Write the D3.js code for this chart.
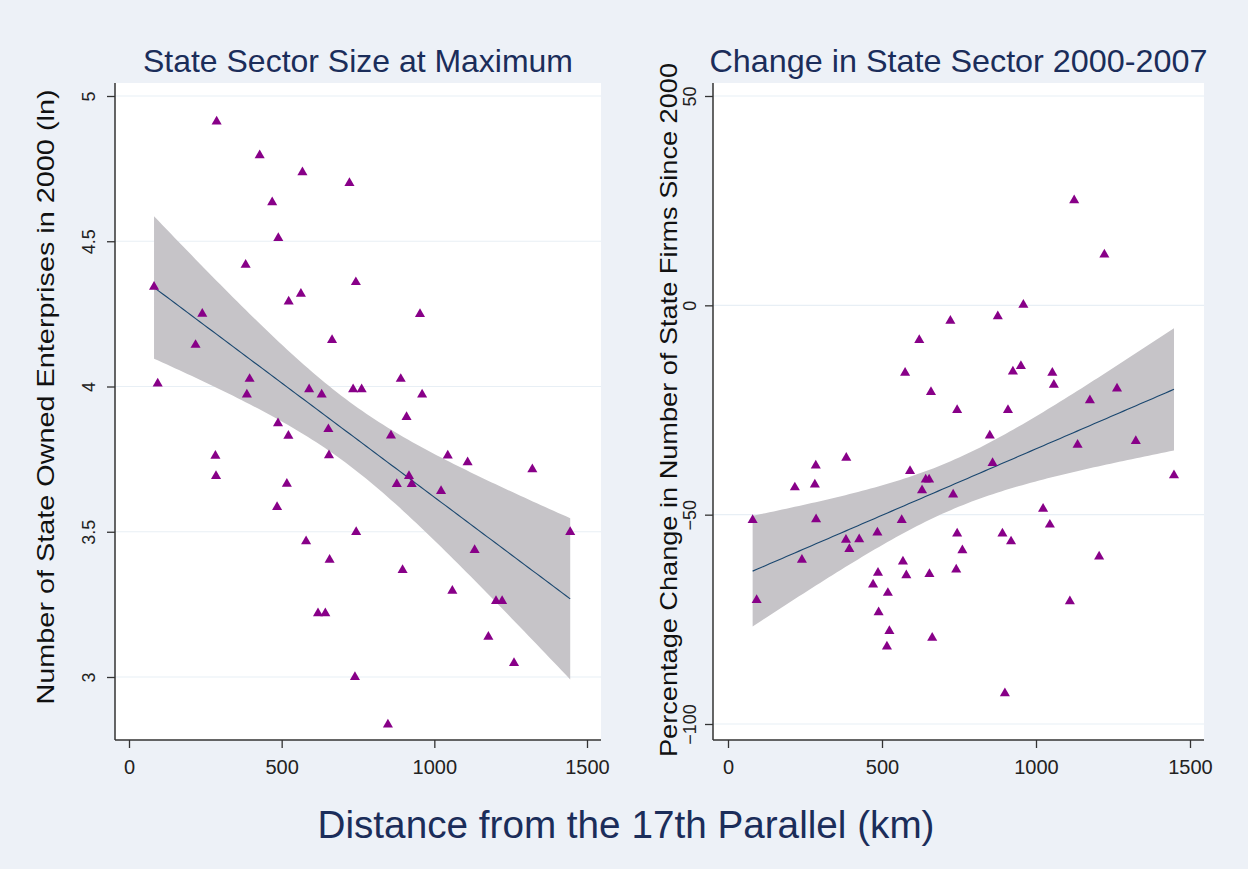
<!DOCTYPE html>
<html>
<head>
<meta charset="utf-8">
<script src="https://cdn.jsdelivr.net/npm/d3@7"></script>
<style>
  html, body { margin: 0; padding: 0; background: #edf1f7; }
  svg { display: block; font-family: "Liberation Sans", Arial, sans-serif; }
</style>
</head>
<body>
<svg id="chart" width="1248" height="869"></svg>
<script>
// ---------- DATA ----------
const xTicks = [0, 500, 1000, 1500];
const leftYTicks = [3, 3.5, 4, 4.5, 5];
const rightYTicks = [-100, -50, 0, 50];

const leftTitle = "State Sector Size at Maximum";
const rightTitle = "Change in State Sector 2000-2007";
const leftYLabel = "Number of State Owned Enterprises in 2000 (ln)";
const rightYLabel = "Percentage Change in Number of State Firms Since 2000";
const xLabel = "Distance from the 17th Parallel (km)";

// Left panel: distance (km) and ln number of SOEs in 2000
const leftX = [82, 94, 218, 240, 287, 283, 285, 428, 382, 395, 386, 469, 489, 523, 488, 485,
  568, 563, 522, 517, 590, 631, 580, 619, 643, 653, 665, 655, 657, 722, 734, 762, 743, 744,
  740, 848, 858, 890, 877, 896, 909, 917, 926, 953, 960, 1022, 1044, 1109, 1059, 1132, 1177,
  1202, 1222, 1261, 1321, 1445];
const leftY = [4.343, 4.010, 4.143, 4.250, 4.912, 3.761, 3.692, 4.796, 4.419, 4.026, 3.972,
  4.634, 4.511, 4.292, 3.873, 3.585, 4.737, 4.319, 3.830, 3.665, 3.990, 3.972, 3.467, 3.219,
  3.219, 3.853, 4.160, 3.763, 3.403, 4.700, 3.990, 3.990, 4.359, 3.499, 3.000, 2.836, 3.831,
  4.026, 3.664, 3.368, 3.895, 3.692, 3.664, 4.249, 3.972, 3.640, 3.762, 3.739, 3.297, 3.437,
  3.138, 3.261, 3.261, 3.048, 3.715, 3.499];

// Right panel: distance (km) and % change in number of state firms since 2000
const rightX = [1124, 1222, 959, 876, 722, 621, 951, 925, 1053, 1058, 575, 659, 1263, 1175, 744,
  909, 384, 285, 591, 217, 282, 642, 653, 630, 80, 286, 564, 383, 426, 394, 485, 240, 568, 487,
  579, 654, 471, 519, 93, 489, 524, 663, 516, 850, 1135, 1324, 859, 731, 1448, 1023, 1045, 744,
  891, 919, 761, 1205, 741, 1110, 899];
const rightY = [25.1, 12.1, 0.1, -2.6, -3.7, -8.3, -14.5, -15.8, -16.1, -19.0, -16.1, -20.7,
  -19.9, -22.7, -25.0, -25.0, -36.4, -38.3, -39.6, -43.5, -42.8, -41.6, -41.6, -44.2, -51.3,
  -51.1, -51.3, -56.0, -55.9, -58.2, -54.3, -60.8, -61.2, -63.9, -64.5, -64.2, -66.7, -68.7,
  -70.4, -73.3, -77.8, -79.4, -81.5, -31.1, -33.3, -32.4, -37.7, -45.2, -40.6, -48.6, -52.4,
  -54.5, -54.5, -56.4, -58.5, -60.0, -63.1, -70.7, -92.7];

// ---------- LAYOUT ----------
const svg = d3.select("#chart");
const W = 1248, H = 869;
svg.append("rect").attr("width", W).attr("height", H).attr("fill", "#edf1f7");

const COLORS = {
  marker: "#880088",
  fit: "#1a476f",
  band: "#c6c4c8",
  grid: "#e8eff5",
  axis: "#333333",
  title: "#1b2d5a"
};

// linear fit with 95% CI of mean prediction (like Stata lfitci)
function fitCI(xs, ys, nPts) {
  const n = xs.length;
  const xm = d3.mean(xs), ym = d3.mean(ys);
  let sxx = 0, sxy = 0;
  for (let i = 0; i < n; i++) { sxx += (xs[i] - xm) ** 2; sxy += (xs[i] - xm) * (ys[i] - ym); }
  const b = sxy / sxx, a = ym - b * xm;
  let sse = 0;
  for (let i = 0; i < n; i++) sse += (ys[i] - a - b * xs[i]) ** 2;
  const s = Math.sqrt(sse / (n - 2));
  const df = n - 2;
  const t = 1.959964 + 2.37227 / df + 2.82217 / (df * df);
  const [x0, x1] = d3.extent(xs);
  const out = [];
  for (let k = 0; k <= nPts; k++) {
    const x = x0 + (x1 - x0) * k / nPts;
    const yh = a + b * x;
    const se = s * Math.sqrt(1 / n + (x - xm) ** 2 / sxx);
    out.push({ x, y: yh, lo: yh - t * se, hi: yh + t * se });
  }
  return out;
}

function panel(cfg) {
  const g = svg.append("g");
  const x = d3.scaleLinear().domain([0, 1500]).range(cfg.xRange);
  const y = d3.scaleLinear().domain(cfg.yDomain).range(cfg.yRange);
  const [L, T, R, B] = cfg.box;

  g.append("rect").attr("x", L).attr("y", T).attr("width", R - L).attr("height", B - T)
    .attr("fill", "#ffffff");

  // gridlines
  g.append("g").selectAll("line").data(cfg.yTicks).join("line")
    .attr("x1", L).attr("x2", R)
    .attr("y1", d => y(d)).attr("y2", d => y(d))
    .attr("stroke", COLORS.grid).attr("stroke-width", 1.2);

  // CI band + fit
  const fit = fitCI(cfg.xs, cfg.ys, 100);
  g.append("path").datum(fit)
    .attr("d", d3.area().x(d => x(d.x)).y0(d => y(d.lo)).y1(d => y(d.hi)))
    .attr("fill", COLORS.band);
  g.append("path").datum(fit)
    .attr("d", d3.line().x(d => x(d.x)).y(d => y(d.y)))
    .attr("fill", "none").attr("stroke", COLORS.fit).attr("stroke-width", 1.1);

  // markers
  const tri = d3.symbol().type(d3.symbolTriangle).size(44);
  g.append("g").selectAll("path").data(cfg.xs.map((v, i) => [v, cfg.ys[i]])).join("path")
    .attr("d", tri)
    .attr("transform", d => `translate(${x(d[0])},${y(d[1])})`)
    .attr("fill", COLORS.marker);

  // axes
  const yAxis = g.append("g").attr("transform", `translate(${L},0)`)
    .call(d3.axisLeft(y).tickValues(cfg.yTicks).tickSize(8).tickFormat(d3.format("")));
  yAxis.select(".domain").remove();
  yAxis.append("line").attr("x1", 0).attr("x2", 0).attr("y1", T).attr("y2", B)
    .attr("stroke", COLORS.axis).attr("stroke-width", 1.5);
  yAxis.selectAll(".tick line").attr("stroke", COLORS.axis).attr("stroke-width", 1.3);
  yAxis.selectAll(".tick text")
    .attr("transform", "rotate(-90)")
    .attr("x", 0).attr("y", cfg.tickLabelOffset).attr("dy", 0)
    .style("text-anchor", "middle")
    .attr("fill", "#222").style("font-size", "18px");

  const xAxis = g.append("g").attr("transform", `translate(0,${B})`)
    .call(d3.axisBottom(x).tickValues(xTicks).tickSize(8).tickPadding(12)
      .tickFormat(d3.format("d")));
  xAxis.select(".domain").remove();
  xAxis.append("line").attr("x1", L).attr("x2", R).attr("y1", 0).attr("y2", 0)
    .attr("stroke", COLORS.axis).attr("stroke-width", 1.5);
  xAxis.selectAll(".tick line").attr("stroke", COLORS.axis).attr("stroke-width", 1.3);
  xAxis.selectAll(".tick text").attr("fill", "#222").style("font-size", "20px");

  // title
  g.append("text").attr("x", (L + R) / 2).attr("y", 72)
    .attr("text-anchor", "middle").attr("fill", COLORS.title)
    .style("font-size", "32px")
    .attr("textLength", cfg.titleLen).attr("lengthAdjust", "spacingAndGlyphs")
    .text(cfg.title);

  // y label
  g.append("text")
    .attr("transform", `translate(${cfg.yLabelX},${cfg.yLabelY}) rotate(-90)`)
    .attr("text-anchor", "middle").attr("fill", "#111")
    .style("font-size", "24px")
    .attr("textLength", cfg.yLabelLen).attr("lengthAdjust", "spacingAndGlyphs")
    .text(cfg.yLabel);
}

panel({
  box: [115, 83, 601, 740],
  xRange: [129, 587],
  yDomain: [3, 5], yRange: [677, 96],
  yTicks: leftYTicks, tickLabelOffset: -20,
  xs: leftX, ys: leftY,
  title: leftTitle, titleLen: 430,
  yLabel: leftYLabel, yLabelLen: 615,
  yLabelX: 54, yLabelY: 397
});

panel({
  box: [713, 83, 1204, 740],
  xRange: [728, 1190],
  yDomain: [-100, 50], yRange: [724, 96],
  yTicks: rightYTicks, tickLabelOffset: -17,
  xs: rightX, ys: rightY,
  title: rightTitle, titleLen: 498,
  yLabel: rightYLabel, yLabelLen: 694,
  yLabelX: 677, yLabelY: 410
});

svg.append("text").attr("x", 626).attr("y", 838)
  .attr("text-anchor", "middle").attr("fill", COLORS.title)
  .style("font-size", "38px")
  .attr("textLength", 617).attr("lengthAdjust", "spacingAndGlyphs")
  .text(xLabel);
</script>
</body>
</html>
